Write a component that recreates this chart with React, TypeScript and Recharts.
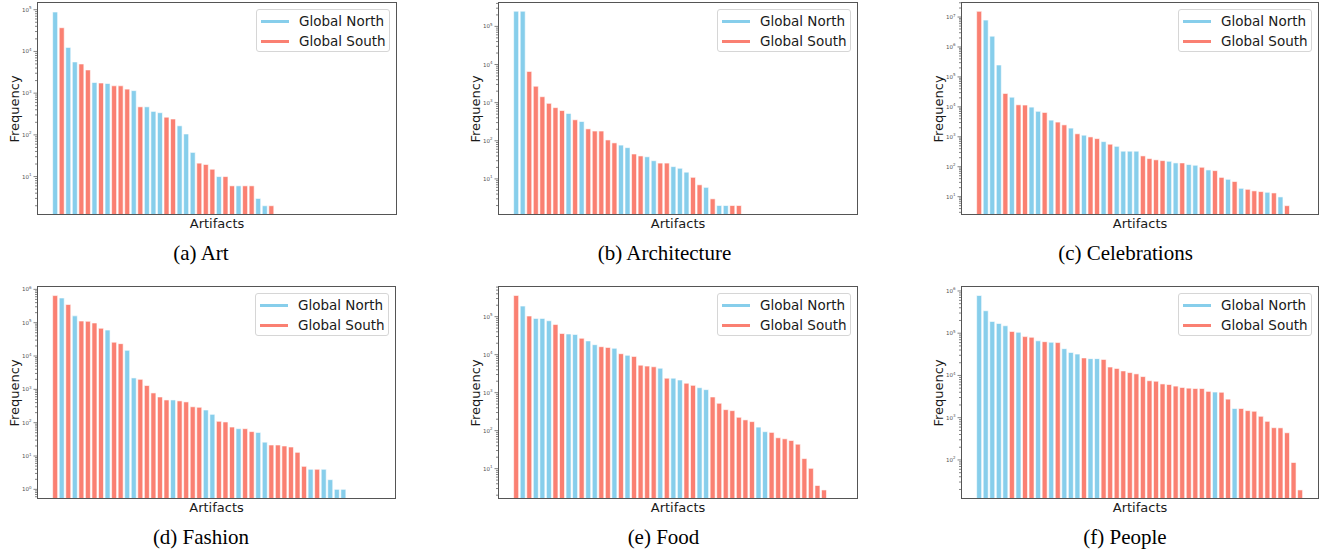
import React from 'react';
import { BarChart, Bar, XAxis, YAxis, Cell } from 'recharts';

const NORTH = '#87CEEB';
const SOUTH = '#FA8072';

// frequencies per artifact (sorted high to low)
const artValues = [88000, 37000, 12500, 5600, 5000, 3600, 1800, 1750, 1700, 1500, 1500, 1250, 1150, 470, 470, 365, 340, 265, 240, 165, 105, 38, 21, 19.5, 15, 10, 10, 6, 6, 6, 6, 3, 2, 2];
const artRegions = 'NSNNSSNSNSSSNSNNNSSNNNSSSNSSNSSNNS'.split('');

const architectureValues = [250000, 250000, 6600, 2700, 1430, 960, 740, 620, 520, 355, 320, 205, 180, 180, 105, 88, 77, 66, 45, 40, 38, 30, 26, 26, 21, 19, 15, 11, 7, 6, 3, 2, 2, 2, 2];
const architectureRegions = 'NNSSSSSSNSNSSSSSNNSSNNSSNNNSSNSNNSS'.split('');

const celebrationValues = [15500000, 7900000, 2300000, 250000, 28000, 21000, 11700, 11500, 9800, 7100, 6500, 3600, 3100, 2500, 1950, 1260, 1130, 990, 870, 690, 565, 480, 330, 330, 330, 230, 187, 170, 160, 152, 134, 134, 118, 112, 96, 78, 74, 44, 38, 32, 19, 17.6, 15.6, 14.8, 14, 13.3, 9.8, 5];
const celebrationRegions = 'SNNNSNSSNNSNSSNSNSSNSNNNNSSSSNNSNNSNSSNSNSSSNSNS'.split('');

const fashionValues = [650000, 550000, 350000, 160000, 112000, 110000, 98000, 68000, 60000, 26000, 23500, 14800, 2200, 2000, 1300, 780, 590, 480, 480, 450, 420, 300, 290, 240, 178, 110, 105, 74, 66, 66, 54, 51, 26, 21.4, 21.4, 20, 18.6, 12.9, 4.9, 4, 4, 4, 1.95, 1, 1];
const fashionRegions = 'SNSNSSSSNSSNNSSSSSNSSSSNNSSSNSSNNSSSSSSNSNNNN'.split('');

const foodValues = [360000, 190000, 104000, 90000, 90000, 78000, 62000, 36000, 35000, 34000, 27000, 23000, 18300, 16200, 15500, 14700, 10600, 9600, 9000, 5300, 5000, 4800, 4400, 2400, 2400, 2150, 1770, 1560, 1350, 1200, 770, 525, 357, 336, 225, 192, 173, 124, 94, 90, 65, 61, 55, 44, 18.4, 10.2, 3.6, 2.75];
const foodRegions = 'SNSNNNSSNNSNNSSNSNSSSSNSNNSSNNSSSSSSSNNSSSSSSSSS'.split('');

const peopleValues = [780000, 340000, 190000, 170000, 150000, 110000, 105000, 83000, 80000, 66000, 63000, 61000, 60000, 43000, 35000, 32000, 26000, 25000, 25000, 24000, 15800, 14700, 12800, 11700, 10900, 9400, 7500, 7300, 6300, 6100, 5600, 5200, 5000, 4900, 4900, 4200, 4050, 4000, 2750, 1650, 1650, 1470, 1420, 1080, 820, 580, 575, 440, 87, 19.5];
const peopleRegions = 'NNNNNSNSSNSNSNNNSNNSSSSSSSSSSSSSSSSSNSSNSSSSSSSSSS'.split('');

const PLOT_LEFT = 37;
const PLOT_H = 213;
const SLOT = 6.55;
const PAD_LEFT = 15;

const panels = [
  { caption: '(a) Art', values: artValues, regions: artRegions, domain: [1.2, 1.53e5], left: 37, top: 2, width: 360, capX: 201 },
  { caption: '(b) Architecture', values: architectureValues, regions: architectureRegions, domain: [1.13, 4.36e5], left: 498, top: 2, width: 360, capX: 664.5 },
  { caption: '(c) Celebrations', values: celebrationValues, regions: celebrationRegions, domain: [2.44, 3.18e7], left: 961, top: 2, width: 358, capX: 1125.5 },
  { caption: '(d) Fashion', values: fashionValues, regions: fashionRegions, domain: [0.513, 1.26e6], left: 37, top: 286, width: 359, capX: 201 },
  { caption: '(e) Food', values: foodValues, regions: foodRegions, domain: [1.59, 6.41e5], left: 498, top: 286, width: 360, capX: 663.5 },
  { caption: '(f) People', values: peopleValues, regions: peopleRegions, domain: [11.9, 1.31e6], left: 961, top: 286, width: 358, capX: 1125 },
];

const logTicks = (lo: number, hi: number) => {
  const ticks: number[] = [];
  for (let e = Math.floor(Math.log10(lo)); e <= Math.ceil(Math.log10(hi)); e++) {
    for (let k = 1; k < 10; k++) {
      const v = k * Math.pow(10, e);
      if (v >= lo && v <= hi) ticks.push(v);
    }
  }
  return ticks;
};

const LogTick = (props: any) => {
  const { y, payload } = props;
  const lg = Math.log10(payload.value);
  const exp = Math.round(lg);
  const major = Math.abs(lg - exp) < 1e-6;
  return (
    <g>
      <line x1={PLOT_LEFT - (major ? 3.5 : 2)} x2={PLOT_LEFT} y1={y} y2={y} stroke="#333" strokeWidth={0.6} />
      {major && (
        <text x={PLOT_LEFT - 5.5} y={y + 2} textAnchor="end" fontSize={5.5} fill="#555" fontFamily="DejaVu Sans">
          10<tspan dy={-2.5} fontSize={4}>{exp}</tspan>
        </text>
      )}
    </g>
  );
};

const LegendBox = ({ x, y }: { x: number; y: number }) => (
  <div style={{ position: 'absolute', left: x, top: y, width: 134, height: 43, boxSizing: 'border-box', border: '1px solid #d6d6d6', borderRadius: 3, background: 'rgba(255,255,255,0.8)' }}>
    {[['Global North', NORTH], ['Global South', SOUTH]].map(([label, color], i) => (
      <div key={label} style={{ position: 'absolute', left: 0, top: 3 + i * 20, height: 16, width: '100%' }}>
        <div style={{ position: 'absolute', left: 4, top: 7, width: 28, height: 3, background: color }} />
        <div style={{ position: 'absolute', left: 42, top: 0, fontSize: 13.5, lineHeight: '16px', color: '#1a1a1a', whiteSpace: 'nowrap' }}>{label}</div>
      </div>
    ))}
  </div>
);

const Panel = ({ p }: { p: (typeof panels)[number] }) => {
  const data = p.values.map((v, i) => ({ name: String(i), value: v, region: p.regions[i] }));
  const padRight = p.width - PAD_LEFT - data.length * SLOT;
  return (
    <>
      <div style={{ position: 'absolute', left: p.left - PLOT_LEFT, top: p.top - 2 }}>
        <BarChart width={PLOT_LEFT + p.width + 4} height={2 + PLOT_H + 30} data={data} margin={{ top: 2, right: 4, bottom: 0, left: 0 }} barCategoryGap="10%">
          <XAxis dataKey="name" tick={false} tickLine={false} axisLine={false} height={30} padding={{ left: PAD_LEFT, right: padRight }} />
          <YAxis
            scale="log"
            type="number"
            domain={p.domain}
            allowDataOverflow
            ticks={logTicks(p.domain[0], p.domain[1])}
            interval={0}
            tick={(t: any) => <LogTick {...t} />}
            tickLine={false}
            axisLine={false}
            width={PLOT_LEFT}
          />
          <Bar dataKey="value" isAnimationActive={false} stroke="#fff" strokeWidth={0.6}>
            {data.map((d, i) => (
              <Cell key={i} fill={d.region === 'N' ? NORTH : SOUTH} />
            ))}
          </Bar>
        </BarChart>
      </div>
      <div style={{ position: 'absolute', left: p.left, top: p.top, width: p.width, height: PLOT_H, boxSizing: 'border-box', border: '1px solid #555', pointerEvents: 'none' }} />
      <LegendBox x={p.left + p.width - 7 - 134} y={p.top + 7} />
      <div style={{ position: 'absolute', left: p.left - 23, top: p.top + PLOT_H / 2, transform: 'translate(-50%, -50%) rotate(-90deg)', fontSize: 13, lineHeight: '15px', color: '#1a1a1a', whiteSpace: 'nowrap' }}>
        Frequency
      </div>
      <div style={{ position: 'absolute', left: p.left + p.width / 2, top: p.top + PLOT_H + 1, transform: 'translateX(-50%)', fontSize: 13, lineHeight: '15px', color: '#1a1a1a', whiteSpace: 'nowrap' }}>
        Artifacts
      </div>
      <div style={{ position: 'absolute', left: p.capX, top: p.top + 239, transform: 'translateX(-50%)', fontFamily: 'Liberation Serif', fontSize: 21, lineHeight: '24px', color: '#000', whiteSpace: 'nowrap' }}>
        {p.caption}
      </div>
    </>
  );
};

export default function App() {
  return (
    <div style={{ position: 'absolute', left: 0, top: 0, width: 1328, height: 550, background: '#fff', fontFamily: 'DejaVu Sans', overflow: 'hidden' }}>
      {panels.map((p) => (
        <Panel key={p.caption} p={p} />
      ))}
    </div>
  );
}
